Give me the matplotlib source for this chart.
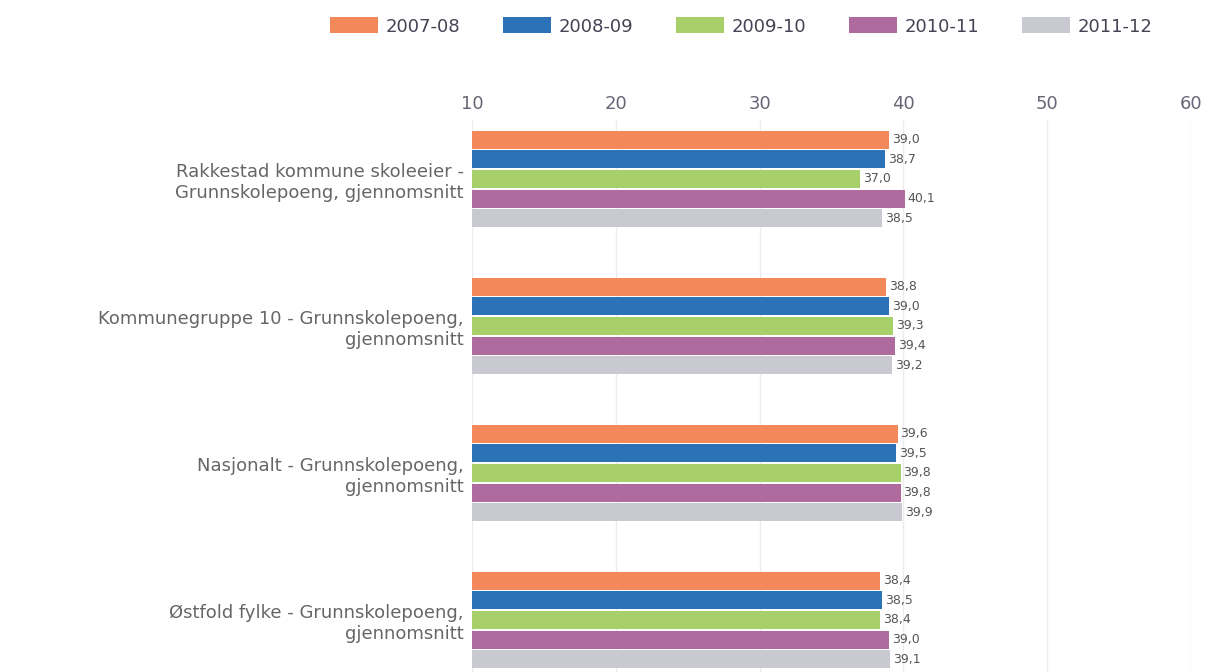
import matplotlib.pyplot as plt
import numpy as np

categories = [
    "Rakkestad kommune skoleeier -\nGrunnskolepoeng, gjennomsnitt",
    "Kommunegruppe 10 - Grunnskolepoeng,\ngjennomsnitt",
    "Nasjonalt - Grunnskolepoeng,\ngjennomsnitt",
    "Østfold fylke - Grunnskolepoeng,\ngjennomsnitt",
]
years = ["2007-08", "2008-09", "2009-10", "2010-11", "2011-12"]
v2007 = [39.0, 38.8, 39.6, 38.4]
v2008 = [38.7, 39.0, 39.5, 38.5]
v2009 = [37.0, 39.3, 39.8, 38.4]
v2010 = [40.1, 39.4, 39.8, 39.0]
v2011 = [38.5, 39.2, 39.9, 39.1]
series = [v2007, v2008, v2009, v2010, v2011]
colors = ["#f3895a", "#2b72b6", "#a8d06a", "#b06b9e", "#c9c9d1"]

W, H = 1207, 672
fig = plt.figure(figsize=(W / 100, H / 100), dpi=100)
# axes spans from x=472 to 1191 px, y=120 px to the bottom edge
ax = fig.add_axes([472 / W, 0, (1191 - 472) / W, (H - 120) / H])

y = np.arange(len(categories))
step = 0.1333
bh = 0.122
for j, (vals, c, lab) in enumerate(zip(series, colors, years)):
    pos = y + (j - 2) * step
    ax.barh(pos, np.array(vals) - 10, left=10, height=bh, color=c,
            label=lab, zorder=3)
    for p, v in zip(pos, vals):
        ax.text(v + 0.2, p, f"{v:.1f}".replace(".", ","), va="center",
                ha="left", fontsize=9, color="#555555", zorder=4)

ax.set_xlim(10, 60)
ax.set_ylim((672 - 179) / 147, (120 - 179) / 147)
ax.xaxis.tick_top()
ax.set_xticks([10, 20, 30, 40, 50, 60])
ax.tick_params(axis="x", length=0, pad=5, labelsize=13, labelcolor="#666677")
ax.set_yticks(y)
ax.set_yticklabels(categories, fontsize=13, color="#666666")
ax.tick_params(axis="y", length=0, pad=6)
ax.grid(axis="x", color="#ececec", linewidth=1, zorder=0)
for s in ax.spines.values():
    s.set_visible(False)

fig.legend(loc="upper center", bbox_to_anchor=(741 / W, 1 - 1 / H), ncol=5,
           frameon=False, fontsize=13, handlelength=2.7, handleheight=1.0,
           handletextpad=0.4, columnspacing=2.35, labelcolor="#444455")

fig.savefig("out.png", dpi=100)
